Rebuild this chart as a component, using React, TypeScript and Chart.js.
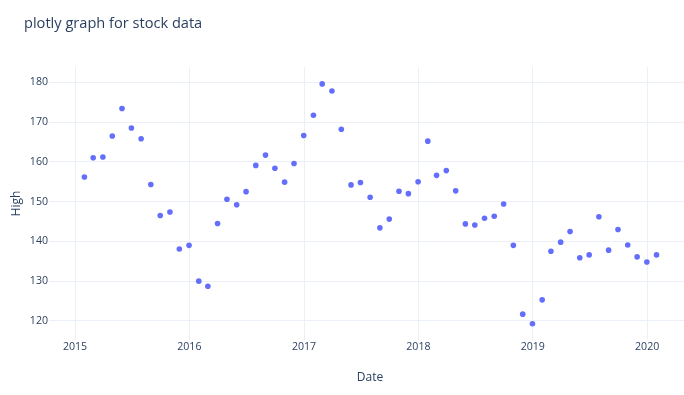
import React, { useEffect, useRef } from "react";
import { Chart, registerables } from "chart.js";

Chart.register(...registerables);

const TITLE = "plotly graph for stock data";
const X_TITLE = "Date";
const Y_TITLE = "High";

const DATES: string[] = [
  "2015-01-31", "2015-02-28", "2015-03-31", "2015-04-30", "2015-05-31", "2015-06-30",
  "2015-07-31", "2015-08-31", "2015-09-30", "2015-10-31", "2015-11-30", "2015-12-31",
  "2016-01-31", "2016-02-29", "2016-03-31", "2016-04-30", "2016-05-31", "2016-06-30",
  "2016-07-31", "2016-08-31", "2016-09-30", "2016-10-31", "2016-11-30", "2016-12-31",
  "2017-01-31", "2017-02-28", "2017-03-31", "2017-04-30", "2017-05-31", "2017-06-30",
  "2017-07-31", "2017-08-31", "2017-09-30", "2017-10-31", "2017-11-30", "2017-12-31",
  "2018-01-31", "2018-02-28", "2018-03-31", "2018-04-30", "2018-05-31", "2018-06-30",
  "2018-07-31", "2018-08-31", "2018-09-30", "2018-10-31", "2018-11-30", "2018-12-31",
  "2019-01-31", "2019-02-28", "2019-03-31", "2019-04-30", "2019-05-31", "2019-06-30",
  "2019-07-31", "2019-08-31", "2019-09-30", "2019-10-31", "2019-11-30", "2019-12-31",
  "2020-01-31",
];

const HIGH: number[] = [
  156.2, 161.0, 161.2, 166.5, 173.4, 168.5, 165.8, 154.3, 146.5, 147.4, 138.1, 139.0,
  130.0, 128.7, 144.5, 150.6, 149.2, 152.5, 159.1, 161.7, 158.4, 154.9, 159.6, 166.6,
  171.7, 179.6, 177.8, 168.2, 154.2, 154.8, 151.1, 143.4, 145.6, 152.6, 152.0, 155.0,
  165.2, 156.6, 157.8, 152.7, 144.4, 144.1, 145.8, 146.3, 149.4, 139.0, 121.7, 119.3,
  125.3, 137.5, 139.8, 142.5, 135.9, 136.6, 146.2, 137.8, 143.0, 139.1, 136.1, 134.8,
  136.6,
];

const X_TICK_YEARS: number[] = [2015, 2016, 2017, 2018, 2019, 2020];
const Y_TICKS: number[] = [120, 130, 140, 150, 160, 170, 180];

const DAY = 86400000;
const X_MIN = Date.UTC(2015, 0, 1) - 83 * DAY;
const X_MAX = Date.UTC(2020, 0, 1) + 140 * DAY;
const Y_MIN = 115.2;
const Y_MAX = 183.85;

const TEXT = "#2a3f5f";
const GRID = "#EBF0F8";
const MARKER = "#636efa";
const FONT = "'Open Sans', verdana, arial, sans-serif";

const titlePlugin = {
  id: "plotlyTitle",
  afterDraw(chart: any) {
    const ctx = chart.ctx;
    ctx.save();
    ctx.font = `14.6px ${FONT}`;
    ctx.fillStyle = TEXT;
    ctx.textAlign = "left";
    ctx.textBaseline = "alphabetic";
    ctx.fillText(TITLE, 24, 27.5);
    ctx.restore();
  },
};

export default function App() {
  const ref = useRef<HTMLCanvasElement>(null);

  useEffect(() => {
    if (!ref.current) return;
    const points = DATES.map((d, i) => ({ x: Date.parse(d + "T00:00:00Z"), y: HIGH[i] }));
    const chart = new Chart(ref.current, {
      type: "scatter",
      data: {
        datasets: [
          {
            data: points,
            backgroundColor: MARKER,
            borderWidth: 0,
            pointRadius: 2.8,
            pointHoverRadius: 2.8,
          },
        ],
      },
      plugins: [titlePlugin],
      options: {
        animation: false,
        responsive: false,
        events: [],
        layout: { padding: { top: 67, right: 9, bottom: 0, left: 0 } },
        plugins: {
          legend: { display: false },
          tooltip: { enabled: false },
          title: { display: false },
        },
        scales: {
          x: {
            type: "linear",
            min: X_MIN,
            max: X_MAX,
            afterBuildTicks: (scale: any) => {
              scale.ticks = X_TICK_YEARS.map((y) => ({ value: Date.UTC(y, 0, 1) }));
            },
            afterFit: (scale: any) => {
              scale.height = 55;
            },
            grid: { color: GRID, lineWidth: 1, drawTicks: false },
            border: { display: false },
            ticks: {
              color: TEXT,
              font: { family: FONT, size: 10.6 },
              padding: 1,
              maxRotation: 0,
              autoSkip: false,
              callback: (v: any) => String(new Date(v).getUTCFullYear()),
            },
            title: {
              display: true,
              text: X_TITLE,
              color: TEXT,
              font: { family: FONT, size: 12 },
              padding: 10,
            },
          },
          y: {
            type: "linear",
            min: Y_MIN,
            max: Y_MAX,
            afterBuildTicks: (scale: any) => {
              scale.ticks = Y_TICKS.map((v) => ({ value: v }));
            },
            afterFit: (scale: any) => {
              scale.width = 49;
            },
            grid: { color: GRID, lineWidth: 1, drawTicks: false },
            border: { display: false },
            ticks: {
              color: TEXT,
              font: { family: FONT, size: 10.6 },
              padding: 1,
              callback: (v: any) => String(v),
            },
            title: {
              display: true,
              text: Y_TITLE,
              color: TEXT,
              font: { family: FONT, size: 12 },
              padding: 9,
            },
          },
        },
      },
    });
    return () => chart.destroy();
  }, []);

  return (
    <div
      style={{
        position: "fixed",
        left: 0,
        top: 0,
        width: 684,
        height: 395,
        overflow: "hidden",
        background: "#fff",
      }}
    >
      <canvas ref={ref} width={700} height={395} style={{ width: 700, height: 395, display: "block" }} />
    </div>
  );
}
